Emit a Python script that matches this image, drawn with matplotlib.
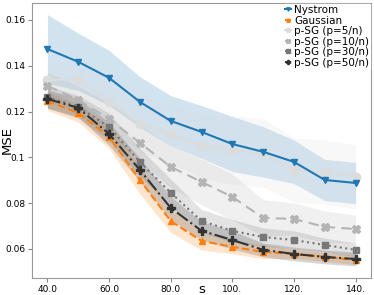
import matplotlib
matplotlib.use('Agg')
import matplotlib.pyplot as plt
import numpy as np

s = [40, 50, 60, 70, 80, 90, 100, 110, 120, 130, 140]

nystrom = [0.1473, 0.1417, 0.1347, 0.1242, 0.1159, 0.1111, 0.1058, 0.1024, 0.0980, 0.0901, 0.0888]
nystrom_std = [0.015, 0.0125, 0.012, 0.011, 0.011, 0.0115, 0.012, 0.011, 0.0095, 0.009, 0.009]

gaussian = [0.1245, 0.1194, 0.1089, 0.0901, 0.0722, 0.0635, 0.0609, 0.0587, 0.0578, 0.0565, 0.0552]
gaussian_std = [0.004, 0.004, 0.005, 0.006, 0.005, 0.004, 0.003, 0.003, 0.002, 0.002, 0.002]

psg5 = [0.1338, 0.1338, 0.1242, 0.1146, 0.1102, 0.1050, 0.1032, 0.1019, 0.0945, 0.0936, 0.0914]
psg5_std = [0.007, 0.008, 0.010, 0.012, 0.013, 0.014, 0.015, 0.015, 0.014, 0.014, 0.014]

psg10 = [0.1312, 0.1250, 0.1168, 0.1063, 0.0958, 0.0893, 0.0827, 0.0735, 0.0731, 0.0696, 0.0687]
psg10_std = [0.006, 0.006, 0.007, 0.008, 0.009, 0.010, 0.010, 0.008, 0.007, 0.007, 0.006]

psg30 = [0.1264, 0.1220, 0.1133, 0.0980, 0.0845, 0.0722, 0.0679, 0.0652, 0.0639, 0.0617, 0.0596]
psg30_std = [0.005, 0.005, 0.006, 0.006, 0.006, 0.005, 0.005, 0.004, 0.004, 0.003, 0.003]

psg50 = [0.1255, 0.1216, 0.1102, 0.0945, 0.0779, 0.0679, 0.0639, 0.0596, 0.0578, 0.0565, 0.0556]
psg50_std = [0.004, 0.004, 0.005, 0.005, 0.005, 0.004, 0.004, 0.003, 0.003, 0.003, 0.003]

xticks = [40, 60, 80, 100, 120, 140]
xtick_labels = ['40.0', '60.0', '80.0', '100.', '120.', '140.']
yticks = [0.06, 0.08, 0.10, 0.12, 0.14, 0.16]
ytick_labels = ['0.06', '0.08', '0.1', '0.12', '0.14', '0.16']

series = [
    ('Nystrom', nystrom, nystrom_std, '#1f77b4', '-', 'v', 5),
    ('Gaussian', gaussian, gaussian_std, '#ff7f0e', '--', '^', 5),
    ('p-SG (p=5/n)', psg5, psg5_std, '#dcdcdc', '-', 'o', 6),
    ('p-SG (p=10/n)', psg10, psg10_std, '#b4b4b4', (0, (5, 3)), 'X', 6),
    ('p-SG (p=30/n)', psg30, psg30_std, '#777777', ':', 's', 4.5),
    ('p-SG (p=50/n)', psg50, psg50_std, '#333333', '-.', 'P', 6),
]

fig = plt.figure(figsize=(3.74, 2.95), dpi=100)
ax = fig.add_axes([0.0856, 0.0576, 0.9064, 0.9324])

x = np.array(s)
for name, m, sd, col, ls, mk, ms in series:
    m = np.array(m)
    sd = np.array(sd)
    ax.fill_between(x, m - sd, m + sd, color=col, alpha=0.2, linewidth=0, zorder=1)
for name, m, sd, col, ls, mk, ms in series:
    z = 4 if name == 'Nystrom' else 3
    ax.plot(x, m, color=col, linestyle=ls, marker=mk, markersize=ms,
            linewidth=1.5, label=name, zorder=z)

ax.set_xlim(35, 145)
ax.set_ylim(0.0473, 0.1674)
ax.set_xticks(xticks)
ax.set_xticklabels(xtick_labels)
ax.set_yticks(yticks)
ax.set_yticklabels(ytick_labels)
ax.tick_params(labelsize=6.5, length=3, color='#888888', pad=2)
for sp in ax.spines.values():
    sp.set_color('#999999')
ax.set_xlabel('s', fontsize=9.5)
ax.set_ylabel('MSE', fontsize=9.5)
ax.xaxis.set_label_coords(0.5, -0.018)
ax.yaxis.set_label_coords(-0.055, 0.5)

ax.legend(loc='upper right', fontsize=7.5, handlelength=0.6, handletextpad=0.3,
          labelspacing=0.05, borderpad=0.1, borderaxespad=0.1, markerscale=0.5,
          frameon=True, fancybox=False, edgecolor='white', framealpha=1.0)

fig.savefig('out.png', dpi=100)
